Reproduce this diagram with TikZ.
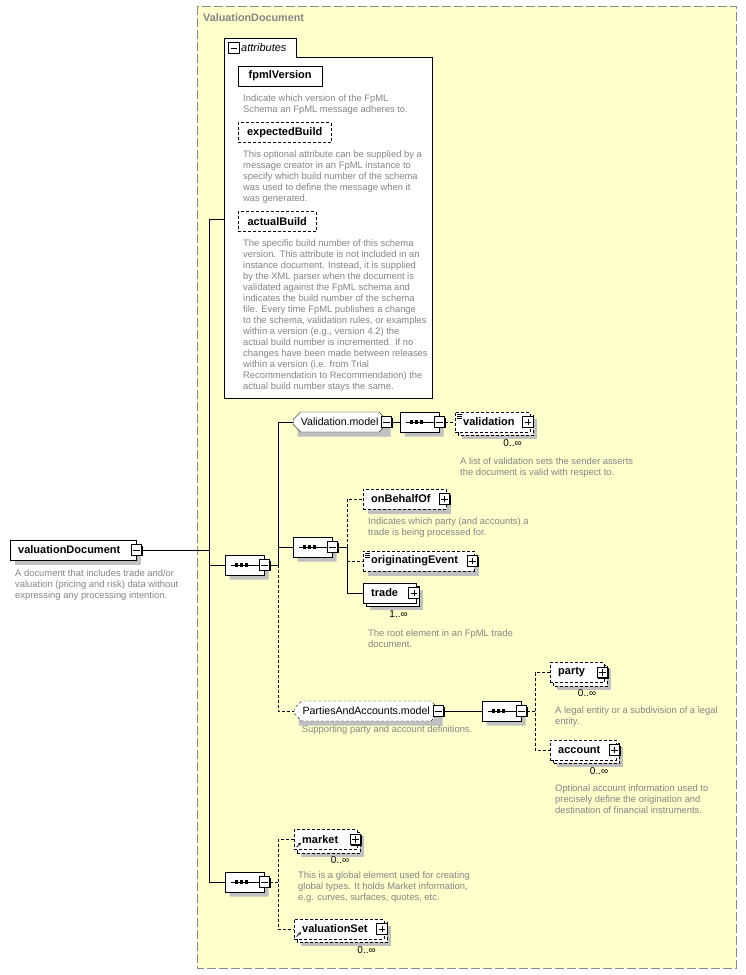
\documentclass[tikz,border=0pt]{standalone}
\usepackage{fontspec}
\setmainfont{Liberation Sans}
\usepackage{xcolor}
\definecolor{GroupYellow}{HTML}{FFFFCC}
\definecolor{GroupLine}{HTML}{8A8A8A}
\definecolor{ShadowGray}{HTML}{C0C0C0}
\definecolor{NoteGray}{HTML}{858585}
\usepackage{tikz}
\usetikzlibrary{shapes.misc, positioning, arrows.meta}
\pgfdeclarelayer{frame}
\pgfdeclarelayer{shadow}
\pgfsetlayers{frame,shadow,main}

\begin{document}
\begin{tikzpicture}[x=1pt, y=-1pt, line width=0.9pt,
    box/.style={draw, fill=white, anchor=west, minimum height=20pt, inner xsep=8pt, inner ysep=0pt,
        font=\bfseries\fontsize{11}{13}\selectfont},
    elem/.style={box, text width=#1-16pt, align=left},
    attrbox/.style={box, minimum width=#1},
    opt/.style={dash pattern=on 3pt off 2pt},
    octshade/.style={chamfered rectangle, chamfered rectangle xsep=5pt, fill=ShadowGray,
        inner sep=0pt, minimum height=20pt},
    model/.style={chamfered rectangle, chamfered rectangle xsep=5pt, draw, fill=white, anchor=west,
        minimum height=20pt, inner sep=0pt, font=\fontsize{10.6}{12}\selectfont},
    seq/.style={model, minimum width=39pt, path picture={
        \draw ([xshift=-14pt]path picture bounding box.center) -- ([xshift=14pt]path picture bounding box.center);
        \foreach \d in {-8,-3,2}
          \fill[black] ([xshift=\d pt]path picture bounding box.center) +(-1.6pt,-1.6pt) rectangle +(1.6pt,1.6pt);}},
    xbox/.style={draw, fill=white, minimum size=10.5pt, inner sep=0pt, line width=0.8pt},
    minusbox/.style={xbox, path picture={
        \draw ([xshift=2pt]path picture bounding box.west) -- ([xshift=-2pt]path picture bounding box.east);}},
    plusbox/.style={xbox, path picture={
        \draw ([xshift=2pt]path picture bounding box.west) -- ([xshift=-2pt]path picture bounding box.east);
        \draw ([yshift=-2pt]path picture bounding box.north) -- ([yshift=2pt]path picture bounding box.south);}},
    note/.style={anchor=north west, inner sep=0pt, align=left, text=NoteGray, font=\fontsize{9.4}{11}\selectfont},
    card/.style={inner sep=0pt, font=\fontsize{10}{12}\selectfont},
]
% page and group frame
\begin{pgfonlayer}{frame}
  \fill[white] (0,0) rectangle (746,975);
  \draw[GroupLine, dash pattern=on 9pt off 3pt, fill=GroupYellow] (197,6) rectangle (736,968);
\end{pgfonlayer}
\node[anchor=west, inner sep=0pt, text=NoteGray, font=\bfseries\fontsize{10.8}{13}\selectfont] (grp) at (203,18) {ValuationDocument};

% attributes
\draw[fill=white] (224,398) -- (224,38) -- (296,38) -- (296,57) -- (432,57) -- (432,398) -- cycle;
\node[minusbox] (attr-x) at (234,48) {};
\node[anchor=west, inner sep=0pt, font=\itshape\fontsize{11}{13}\selectfont] (attr-t) at (241,48) {attributes};
\coordinate (attr) at (224,219);

\node[attrbox=84pt] (fpml) at (238,76) {fpmlVersion};
\node[note, below right=8pt and 5pt of fpml.south west] (fpml-n)
  {Indicate which version of the FpML\\Schema an FpML message adheres to.};
\node[attrbox=93pt, opt] (expbuild) at (238,132.5) {expectedBuild};
\node[note, below right=8pt and 5pt of expbuild.south west] (expbuild-n)
  {This optional attribute can be supplied by a\\message creator in an FpML instance to\\specify which build number of the schema\\was used to define the message when it\\was generated.};
\node[attrbox=78pt, opt] (actbuild) at (238,221.5) {actualBuild};
\node[note, below right=8pt and 5pt of actbuild.south west] (actbuild-n)
  {The specific build number of this schema\\version. This attribute is not included in an\\instance document. Instead, it is supplied\\by the XML parser when the document is\\validated against the FpML schema and\\indicates the build number of the schema\\file. Every time FpML publishes a change\\to the schema, validation rules, or examples\\within a version (e.g., version 4.2) the\\actual build number is incremented. If no\\changes have been made between releases\\within a version (i.e. from Trial\\Recommendation to Recommendation) the\\actual build number stays the same.};

% root element
\node[elem=126pt] (vd) at (10,550) {valuationDocument};
\node[minusbox] (vd-x) at (vd.east) {};
\node[note, below right=9pt and 5pt of vd.south west] (vd-n)
  {A document that includes trade and/or\\valuation (pricing and risk) data without\\expressing any processing intention.};

% first sequence
\node[seq] (seq1) at (225,565) {};
\node[minusbox] (seq1-x) at (seq1.east) {};

\node[model, minimum width=93pt] (valmodel) at (293,422) {Validation.model};
\node[minusbox] (valmodel-x) at (valmodel.east) {};
\node[seq] (seq3) at (400,422) {};
\node[minusbox] (seq3-x) at (seq3.east) {};
\node[elem=74.5pt, opt] (validation) at (455,422) {validation};
\node[plusbox] (validation-x) at ([xshift=-2pt]validation.east) {};
\node[card, below left=7pt and 8pt of validation.south east] (validation-c) {0..∞};
\node[note, below right=25pt and 5pt of validation.south west] (validation-n)
  {A list of validation sets the sender asserts\\the document is valid with respect to.};

\node[seq] (seq2) at (293,547) {};
\node[minusbox] (seq2-x) at (seq2.east) {};
\node[elem=83pt, opt] (behalf) at (363,499) {onBehalfOf};
\node[plusbox] (behalf-x) at ([xshift=-2pt]behalf.east) {};
\node[note, below right=8pt and 5pt of behalf.south west] (behalf-n)
  {Indicates which party (and accounts) a\\trade is being processed for.};
\node[elem=111pt, opt] (origevent) at (363,561) {originatingEvent};
\node[plusbox] (origevent-x) at ([xshift=-2pt]origevent.east) {};
\node[elem=52.5pt] (trade) at (363,593) {trade};
\node[plusbox] (trade-x) at ([xshift=-2pt]trade.east) {};
\node[card, below left=7pt and 8pt of trade.south east] (trade-c) {1..∞};
\node[note, below right=26pt and 5pt of trade.south west] (trade-n)
  {The root element in an FpML trade\\document.};

\node[model, opt, minimum width=144pt] (pam) at (294,711) {PartiesAndAccounts.model};
\node[minusbox] (pam-x) at (pam.east) {};
\node[note, below right=8pt and 4pt of pam.south west] (pam-n)
  {Supporting party and account definitions.};
\node[seq] (seq4) at (482,711) {};
\node[minusbox] (seq4-x) at (seq4.east) {};
\node[elem=54pt, opt] (party) at (550,672.5) {party};
\node[plusbox] (party-x) at ([xshift=-2pt]party.east) {};
\node[card, below left=7pt and 8pt of party.south east] (party-c) {0..∞};
\node[note, below right=24pt and 5pt of party.south west] (party-n)
  {A legal entity or a subdivision of a legal\\entity.};
\node[elem=66pt, opt] (account) at (550,750) {account};
\node[plusbox] (account-x) at ([xshift=-2pt]account.east) {};
\node[card, below left=7pt and 8pt of account.south east] (account-c) {0..∞};
\node[note, below right=24pt and 5pt of account.south west] (account-n)
  {Optional account information used to\\precisely define the origination and\\destination of financial instruments.};

% second sequence
\node[seq] (seq5) at (225,882) {};
\node[minusbox] (seq5-x) at (seq5.east) {};
\node[elem=63pt, opt] (market) at (294,839.5) {market};
\node[plusbox] (market-x) at ([xshift=-2pt]market.east) {};
\node[card, below left=7pt and 8pt of market.south east] (market-c) {0..∞};
\node[note, below right=22pt and 4pt of market.south west] (market-n)
  {This is a global element used for creating\\global types. It holds Market information,\\e.g. curves, surfaces, quotes, etc.};
\node[elem=89.5pt, opt] (valset) at (294,929) {valuationSet};
\node[plusbox] (valset-x) at ([xshift=-2pt]valset.east) {};
\node[card, below left=7pt and 8pt of valset.south east] (valset-c) {0..∞};

% shadows and stacked copies
\begin{pgfonlayer}{shadow}
  \foreach \n/\off in {fpml/4.5, expbuild/4.5, actbuild/4.5, vd/4.5, behalf/4.5, origevent/4.5,
      validation/7, trade/7, party/7, account/7, market/7, valset/7}
    \fill[ShadowGray] ([shift={(\off pt,-\off pt)}]\n.south west) rectangle ([shift={(\off pt,-\off pt)}]\n.north east);
  \foreach \n/\w in {valmodel/93, pam/144, seq1/39, seq2/39, seq3/39, seq4/39, seq5/39}
    \node[octshade, minimum width=\w pt] at ([shift={(4.5pt,-4.5pt)}]\n.center) {};
  \foreach \n in {validation, party, account, market, valset}
    \draw[opt, fill=white] ([shift={(3pt,-3pt)}]\n.south west) rectangle ([shift={(3pt,-3pt)}]\n.north east);
  \draw[fill=white] ([shift={(3pt,-3pt)}]trade.south west) rectangle ([shift={(3pt,-3pt)}]trade.north east);
\end{pgfonlayer}

% small marks
\foreach \n in {vd-x, seq1-x, valmodel-x, seq3-x, validation-x, seq2-x, behalf-x, origevent-x, trade-x,
    pam-x, seq4-x, party-x, account-x, seq5-x, market-x, valset-x}
  \draw[line width=1.4pt] ([yshift=-1.5pt]\n.north east) -- (\n.south east) -- ([xshift=1.5pt]\n.south west);
\foreach \n in {validation, origevent}
  \foreach \d in {2,4,6}
    \draw[line width=0.6pt] ([xshift=2pt, yshift=-\d pt]\n.north west) -- ++(5pt,0);
\foreach \n in {market, valset}
  \draw[line width=0.7pt, -{Stealth[length=3pt,width=3pt]}] ([shift={(2.5pt,2.5pt)}]\n.south west) -- ++(4.5pt,4.5pt);

% connectors
\coordinate (trunk) at (209,219);
\coordinate (br1) at (278,565);
\coordinate (br2) at (347,547);
\coordinate (br4) at (535,711);
\coordinate (br5) at (278,882);
\draw (vd-x.east) -- (vd-x.east -| trunk);
\draw (attr) -- (trunk) -- (trunk |- seq5.west) -- (seq5.west);
\draw (trunk |- seq1.west) -- (seq1.west);
\draw (seq1-x.east) -- (br1);
\draw (valmodel.west) -- (br1 |- valmodel.west) -- (br1);
\draw (br1 |- seq2.west) -- (seq2.west);
\draw[opt] (br1) -- (br1 |- pam.west) -- (pam.west);
\draw (valmodel-x.east) -- (seq3.west);
\draw[opt] (seq3-x.east) -- (validation.west);
\draw (seq2-x.east) -- (br2);
\draw[opt] (br2) -- (br2 |- behalf.west) -- (behalf.west);
\draw[opt] (br2 |- origevent.west) -- (origevent.west);
\draw (br2) -- (br2 |- trade.west) -- (trade.west);
\draw (pam-x.east) -- (seq4.west);
\draw[opt] (seq4-x.east) -- (br4);
\draw[opt] (party.west) -- (br4 |- party.west) -- (br4 |- account.west) -- (account.west);
\draw[opt] (seq5-x.east) -- (br5);
\draw[opt] (market.west) -- (br5 |- market.west) -- (br5 |- valset.west) -- (valset.west);
\end{tikzpicture}
\end{document}
